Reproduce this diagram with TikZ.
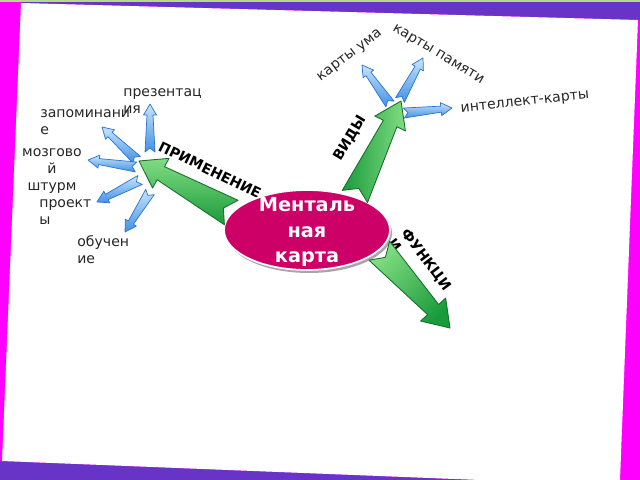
\documentclass[tikz,border=0pt]{standalone}
\usepackage{fontspec}
\setmainfont{DejaVu Sans}
\usepackage{tikz}
\usetikzlibrary{calc,shapes.geometric}

\definecolor{sidemagenta}{RGB}{255,0,255}
\definecolor{bandpurple}{RGB}{104,52,200}
\definecolor{topgreen}{RGB}{185,217,138}
\definecolor{mapred}{RGB}{204,0,102}
\definecolor{greenlight}{RGB}{130,220,130}
\definecolor{greendark}{RGB}{25,155,60}
\definecolor{greenline}{RGB}{25,110,45}
\definecolor{bluelight}{RGB}{200,228,252}
\definecolor{bluedark}{RGB}{65,145,228}
\definecolor{blueline}{RGB}{40,115,205}

\tikzset{
  leaf/.style={font=\fontsize{8}{9.4}\selectfont, inner sep=0pt, text=black!85},
  branch/.style={font=\bfseries\fontsize{8}{9.4}\selectfont, inner sep=0pt},
  mapnode/.style={ellipse, fill=mapred, draw=white, line width=1pt,
    minimum width=3.32cm, minimum height=1.6cm, inner sep=0pt},
  mapshadow/.style={ellipse, fill=black!35,
    minimum width=3.32cm, minimum height=1.6cm, inner sep=0pt},
  maptext/.style={font=\bfseries\fontsize{11}{14.7}\selectfont, text=white,
    align=center, inner sep=0pt},
  greenarrow/.style={draw=greenline, line width=0.5pt, top color=greenlight,
    bottom color=greendark, line join=round},
  bluearrow/.style={draw=blueline, line width=0.4pt, top color=bluelight,
    bottom color=bluedark, line join=round},
}

% block arrow: style, tail, tip, tail half, neck half, head half, head length, notch
\newcommand{\blockarrow}[8]{
  \draw[#1] ($(#2)!#4!90:(#3)$) -- ($(#3)!#7!(#2)!#5!90:(#3)$)
    -- ($(#3)!#7!(#2)!#6!90:(#3)$) -- (#3)
    -- ($(#3)!#7!(#2)!#6!-90:(#3)$) -- ($(#3)!#7!(#2)!#5!-90:(#3)$)
    -- ($(#2)!#4!-90:(#3)$) -- ($(#2)!#8!(#3)$) -- cycle;
}
\newcommand{\greenblock}[3]{\blockarrow{greenarrow,#1}{#2}{#3}{0.28cm}{0.15cm}{0.34cm}{0.5cm}{0.18cm}}
\newcommand{\blueblock}[2]{\blockarrow{bluearrow}{#1}{#2}{0.1cm}{0.06cm}{0.13cm}{0.22cm}{0.08cm}}

\begin{document}
\begin{tikzpicture}[x=0.02cm, y=-0.02cm]
\useasboundingbox (0,0) rectangle (640,480);

% slide background
\fill[sidemagenta] (0,0) rectangle (640,480);
\fill[bandpurple] (21,2) -- (640,2) -- (640,20) -- (21,3) -- cycle;
\fill[bandpurple] (0,461) -- (480,480) -- (0,480) -- cycle;
\fill[white] (21,3) -- (638,20) -- (620,480) -- (480,480) -- (2,461) -- cycle;
\fill[topgreen] (0,0) rectangle (640,2);

% hubs and free ends
\coordinate (apply) at (139,161);
\coordinate (kinds) at (401,101);
\coordinate (funcs) at (450,328);

\coordinate (pres-s) at (150,152);
\coordinate (pres-e) at (150,104);
\coordinate (memo-s) at (137,160);
\coordinate (memo-e) at (102,127);
\coordinate (brain-s) at (136,167);
\coordinate (brain-e) at (88,160);
\coordinate (proj-s) at (140,180);
\coordinate (proj-e) at (97,202);
\coordinate (learn-s) at (150,192);
\coordinate (learn-e) at (125,232);

\coordinate (mind-s) at (390,104);
\coordinate (mind-e) at (362,65);
\coordinate (mem-s) at (400,100);
\coordinate (mem-e) at (423,58);
\coordinate (int-s) at (404,113);
\coordinate (int-e) at (452,108);

% labels
\node[leaf, align=left, anchor=base west] (pres) at (123,113) {презентац\\ия};
\node[leaf, align=left, anchor=base west] (memo) at (40,134) {запоминани\\е};
\node[leaf, align=center, anchor=base] (brain) at (52,190) {мозгово\\й\\штурм};
\node[leaf, align=left, anchor=base west] (proj) at (39,224) {проект\\ы};
\node[leaf, align=left, anchor=base west] (learn) at (77,263) {обучен\\ие};

\node[leaf, rotate=37] (mindmaps) at (350,56) {карты ума};
\node[leaf, rotate=-31] (memmaps) at (438,55) {карты памяти};
\node[leaf, rotate=6] (intmaps) at (525,103) {интеллект-карты};

\node[branch, rotate=59] (kindslbl) at (350,138) {ВИДЫ};
\node[branch, rotate=-26] (applylbl) at (210,170) {ПРИМЕНЕНИЕ};
\node[branch, rotate=-53, align=left, anchor=base west] (funcslbl) at (387,243) {ФУНКЦИ\\И};

% small arrows
\blueblock{pres-s}{pres-e}
\blueblock{memo-s}{memo-e}
\blueblock{brain-s}{brain-e}
\blueblock{proj-s}{proj-e}
\blueblock{learn-s}{learn-e}
\blueblock{mind-s}{mind-e}
\blueblock{mem-s}{mem-e}
\blueblock{int-s}{int-e}

% central node
\node[mapshadow] (mapshade) at (309,233) {};
\node[mapnode] (map) at (307,230) {};

% big arrows
\greenblock{shading angle=0}{map.167}{apply}
\greenblock{shading angle=-90}{map.35}{kinds}
\greenblock{shading angle=45}{map.-16}{funcs}

\node[maptext] (maptitle) at (307,232) {Менталь\\ная\\карта};

\end{tikzpicture}
\end{document}
